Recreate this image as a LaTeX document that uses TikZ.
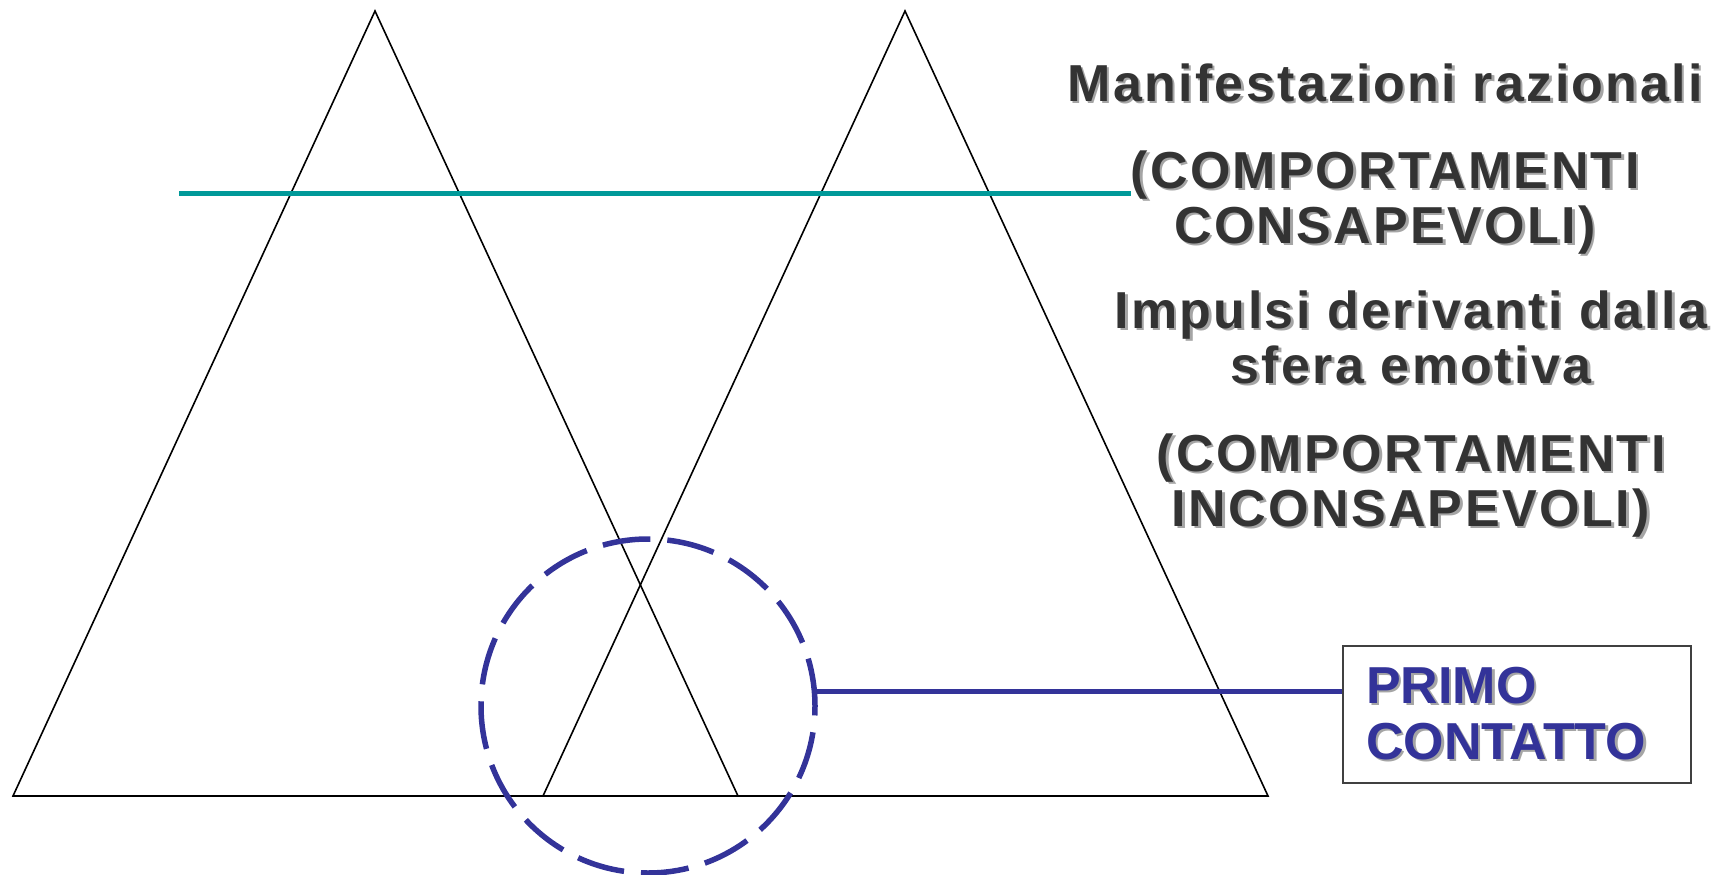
\documentclass[tikz,border=0pt]{standalone}
\usepackage{fontspec}
\newfontfamily\labsp{Liberation Sans}[LetterSpace=4.5]
\newfontfamily\lab{Liberation Sans}
\definecolor{txtgray}{RGB}{51,51,51}
\definecolor{shgray}{RGB}{165,165,165}
\definecolor{tealc}{RGB}{0,153,153}
\definecolor{navyc}{RGB}{51,51,153}
\definecolor{boxgray}{RGB}{64,64,64}
\newcommand\shd[1]{\leavevmode\rlap{\kern2.5pt\raisebox{-2.5pt}{\color{shgray}#1}}#1}
\begin{document}
\begin{tikzpicture}[x=1pt,y=-1pt,
  tri/.style={draw=black, line width=1.6pt, line join=miter},
  tealline/.style={draw=tealc, line width=5pt},
  bluelink/.style={draw=navyc, line width=5pt},
  zone/.style={circle, draw=navyc, line width=5.5pt, dash pattern=on 48pt off 17pt, minimum size=334pt, inner sep=0pt},
  graytext/.style={text=txtgray, font=\labsp\bfseries\fontsize{52}{55}\selectfont, align=center, anchor=base, inner sep=0pt},
  primobox/.style={draw=boxgray, line width=1.6pt, text=navyc, font=\lab\bfseries\fontsize{52}{56}\selectfont, text width=302pt, inner xsep=23pt, inner ysep=0pt, minimum width=348pt, minimum height=137pt, align=left}
]
\useasboundingbox (0,0) rectangle (1726,875);
% triangles
\coordinate (LA) at (375,11);
\coordinate (LB) at (13,796);
\coordinate (LC) at (738,796);
\coordinate (RA) at (905,11);
\coordinate (RB) at (543,796);
\coordinate (RC) at (1268,796);
\draw[tri] (LA) -- (LB) -- (LC) -- cycle;
\draw[tri] (RA) -- (RB) -- (RC) -- cycle;
% teal level line
\coordinate (T1) at (179,193);
\coordinate (T2) at (1131,193);
\draw[tealline] (T1) -- (T2);
% dashed circle
\node[zone] (circ) at (648,706) {};
% box
\node[primobox] (box) at (1517,714.5) {\shd{PRIMO}\\\shd{CONTATTO}};
\draw[bluelink] (circ.5) -- (circ.5 -| box.west);
% texts (anchor base = baseline of last line)
\node[graytext] (t1) at (1385,101) {\shd{Manifestazioni razionali}};
\node[graytext] (t2) at (1385,243) {\shd{(COMPORTAMENTI}\\\shd{CONSAPEVOLI)}};
\node[graytext] (t3) at (1411,383) {\shd{Impulsi derivanti dalla}\\\shd{sfera emotiva}};
\node[graytext] (t4) at (1411,526) {\shd{(COMPORTAMENTI}\\\shd{INCONSAPEVOLI)}};
\end{tikzpicture}
\end{document}
